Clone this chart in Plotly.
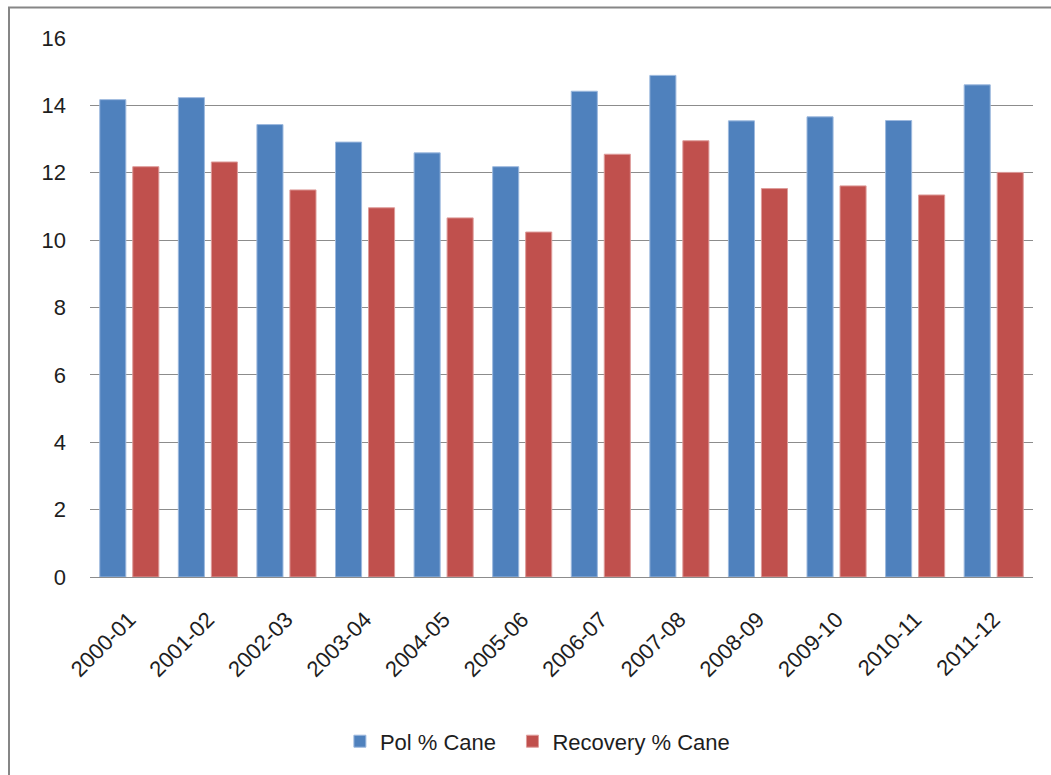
import plotly.graph_objects as go

seasons = ["2000-01", "2001-02", "2002-03", "2003-04", "2004-05", "2005-06",
           "2006-07", "2007-08", "2008-09", "2009-10", "2010-11", "2011-12"]
pol_cane = [14.17, 14.23, 13.43, 12.91, 12.59, 12.18,
            14.42, 14.89, 13.54, 13.66, 13.55, 14.61]
recovery_cane = [12.18, 12.32, 11.49, 10.96, 10.66, 10.24,
                 12.55, 12.95, 11.53, 11.61, 11.34, 12.01]
y_ticks = [0, 2, 4, 6, 8, 10, 12, 14, 16]

FONT = "Liberation Sans, Arial, sans-serif"
GRID = "#8c8c8c"
TEXT = "#1e1e1e"

fig = go.Figure()
fig.add_trace(go.Bar(
    x=seasons, y=pol_cane, name="Pol % Cane", legend="legend",
    marker=dict(color="#4F81BD", line=dict(color="#9DB9DE", width=1)),
))
fig.add_trace(go.Bar(
    x=seasons, y=recovery_cane, name="Recovery % Cane", legend="legend2",
    marker=dict(color="#C0504D", line=dict(color="#DE9C9A", width=1)),
))

legend_common = dict(orientation="h", xanchor="left", y=-0.305,
                     yanchor="middle", itemwidth=30,
                     font=dict(family=FONT, size=22, color=TEXT))

fig.update_layout(
    width=1051, height=775,
    margin=dict(l=90, r=18, t=38, b=198),
    paper_bgcolor="white", plot_bgcolor="white",
    barmode="group", bargap=0.16, bargroupgap=0.21,
    font=dict(family=FONT, size=22, color=TEXT),
    showlegend=True,
    legend=dict(x=0.2650, **legend_common),
    legend2=dict(x=0.4480, **legend_common),
    xaxis=dict(type="category", showgrid=False, showline=True,
               linecolor=GRID, linewidth=1,
               tickangle=-45, ticks="", ticklabelstandoff=20,
               tickfont=dict(family=FONT, size=22, color=TEXT)),
    yaxis=dict(range=[0, 16], tickvals=y_ticks, showgrid=True,
               gridcolor=GRID, gridwidth=1, zeroline=True,
               zerolinecolor=GRID, zerolinewidth=1, showline=False,
               ticks="", ticklabelstandoff=23,
               tickfont=dict(family=FONT, size=22, color=TEXT)),
    shapes=[dict(type="rect", xref="paper", yref="paper",
                 x0=-0.0859, x1=1.3, y0=-1.0, y1=1.0568,
                 line=dict(color="#868686", width=2),
                 fillcolor="rgba(0,0,0,0)", layer="below")],
)

fig.write_html("out.html")
